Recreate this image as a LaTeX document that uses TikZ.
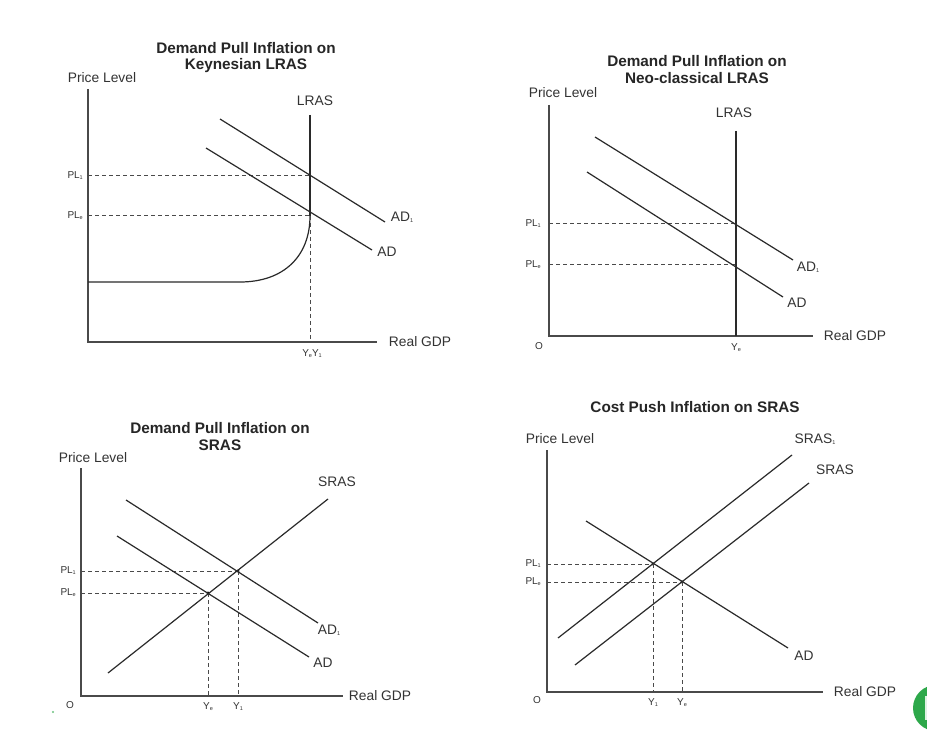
\documentclass[tikz,border=0pt]{standalone}
\usepackage{fontspec}
\setmainfont{Liberation Sans}
\definecolor{ink}{HTML}{2A2A2A}
\definecolor{axisc}{HTML}{4A4A4A}
\definecolor{txt}{HTML}{333333}
\definecolor{btn}{HTML}{2DA84A}
\newcommand\sbs[1]{\raisebox{-0.2ex}{\fontsize{5.5}{6}\selectfont #1}}
\tikzset{
  axisline/.style={line width=1.4pt, draw=axisc},
  curveline/.style={line width=1.2pt, draw=ink},
  guide/.style={line width=1pt, draw=ink!85, dash pattern=on 4pt off 3pt},
  lbl/.style={font=\fontsize{13.8}{16}\selectfont, text=txt, inner sep=0pt},
  ttl/.style={font=\bfseries\fontsize{15.3}{18}\selectfont, text=black!85, inner sep=0pt},
  small/.style={font=\fontsize{10}{11}\selectfont, text=txt, inner sep=0pt},
  dotpt/.style={circle, fill=black, inner sep=0pt, minimum size=3.2pt}
}
\begin{document}
\begin{tikzpicture}[x=1pt,y=-1pt]
\useasboundingbox (0,0) rectangle (927,730);
\fill[white] (0,0) rectangle (927,730);

% ================= Panel 1 =================
\node[ttl] (t1a) at (246,48) {Demand Pull Inflation on};
\node[ttl] (t1b) at (246,66) {Keynesian LRAS};
\node[lbl] (pl1) at (102,78) {Price Level};
\coordinate (a1top) at (88,89);
\coordinate (a1o) at (88,342);
\coordinate (a1r) at (377,342);
\draw[axisline] (a1top) -- (a1o) -- (a1r);
\node[lbl] (rg1) at (420,342) {Real GDP};
\node[lbl] (lras1) at (315,101) {LRAS};
\coordinate (l1top) at (310,115);
\coordinate (l1e) at (310,216);
\coordinate (l1one) at (310,176);
\coordinate (l1bot) at (310,342);
\draw[curveline] (l1top) -- (l1e);
\coordinate (c1a) at (88,282);
\coordinate (c1b) at (240,282);
\draw[curveline] (c1a) -- (c1b) .. controls (284,282) and (310,256) .. (l1e);
\coordinate (g1a) at (88,176);
\coordinate (g1b) at (88,216);
\draw[guide] (g1a) -- (l1one);
\draw[guide] (g1b) -- (l1e);
\draw[guide] (l1e) -- (l1bot);
\node[small, anchor=east] (pl1one) at (83,176) {PL\sbs{1}};
\node[small, anchor=east] (pl1e) at (83,216) {PL\sbs{e}};
\coordinate (ad11s) at (220,119);
\coordinate (ad11e) at (385,222);
\draw[curveline] (ad11s) -- (ad11e);
\node[lbl] (ad11l) at (402,217) {AD\sbs{1}};
\coordinate (ad1s) at (206,148);
\coordinate (ad1e) at (372,250);
\draw[curveline] (ad1s) -- (ad1e);
\node[lbl] (ad1l) at (387,252) {AD};
\node[small] (y1l) at (312,354) {Y\sbs{e}Y\sbs{1}};

% ================= Panel 2 =================
\node[ttl] (t2a) at (697,61) {Demand Pull Inflation on};
\node[ttl] (t2b) at (697,78) {Neo-classical LRAS};
\node[lbl] (pl2) at (563,93) {Price Level};
\coordinate (a2top) at (549,105);
\coordinate (a2o) at (549,336);
\coordinate (a2r) at (813,336);
\draw[axisline] (a2top) -- (a2o) -- (a2r);
\node[lbl] (rg2) at (855,336) {Real GDP};
\node[small] (o2) at (539,346) {O};
\node[lbl] (lras2) at (734,113) {LRAS};
\coordinate (l2top) at (736,131);
\coordinate (l2one) at (736,224);
\coordinate (l2e) at (736,265);
\coordinate (l2bot) at (736,336);
\draw[curveline] (l2top) -- (l2bot);
\coordinate (g2a) at (549,224);
\coordinate (g2b) at (549,265);
\draw[guide] (g2a) -- (l2one);
\draw[guide] (g2b) -- (l2e);
\node[small, anchor=east] (pl2one) at (541,224) {PL\sbs{1}};
\node[small, anchor=east] (pl2e) at (541,265) {PL\sbs{e}};
\coordinate (ad21s) at (595,137);
\coordinate (ad21e) at (793,260);
\draw[curveline] (ad21s) -- (ad21e);
\node[lbl] (ad21l) at (808,267) {AD\sbs{1}};
\coordinate (ad2s) at (587,172);
\coordinate (ad2e) at (783,297);
\draw[curveline] (ad2s) -- (ad2e);
\node[lbl] (ad2l) at (797,303) {AD};
\node[small] (ye2) at (736,348) {Y\sbs{e}};

% ================= Panel 3 =================
\node[ttl] (t3a) at (220,428) {Demand Pull Inflation on};
\node[ttl] (t3b) at (220,445) {SRAS};
\node[lbl] (pl3) at (93,458) {Price Level};
\coordinate (a3top) at (81,468);
\coordinate (a3o) at (81,696);
\coordinate (a3r) at (343,696);
\draw[axisline] (a3top) -- (a3o) -- (a3r);
\node[lbl] (rg3) at (380,696) {Real GDP};
\node[small] (o3) at (70,705) {O};
\node[dotpt] (e3) at (208,593) {};
\node[dotpt] (e31) at (238,571) {};
\coordinate (g3a) at (81,571);
\coordinate (g3b) at (81,593);
\coordinate (g3c) at (208,696);
\coordinate (g3d) at (238,696);
\draw[guide] (g3a) -- (e31.center);
\draw[guide] (g3b) -- (e3.center);
\draw[guide] (e3.center) -- (g3c);
\draw[guide] (e31.center) -- (g3d);
\node[small, anchor=east] (pl3one) at (76,571) {PL\sbs{1}};
\node[small, anchor=east] (pl3e) at (76,593) {PL\sbs{e}};
\coordinate (s3s) at (108,673);
\coordinate (s3e) at (328,499);
\draw[curveline] (s3s) -- (s3e);
\node[lbl] (s3l) at (337,482) {SRAS};
\coordinate (ad31s) at (126,500);
\coordinate (ad31e) at (318,623);
\draw[curveline] (ad31s) -- (ad31e);
\node[lbl] (ad31l) at (329,630) {AD\sbs{1}};
\coordinate (ad3s) at (117,536);
\coordinate (ad3e) at (309,657);
\draw[curveline] (ad3s) -- (ad3e);
\node[lbl] (ad3l) at (323,663) {AD};
\node[small] (ye3) at (208,707) {Y\sbs{e}};
\node[small] (y13) at (238,707) {Y\sbs{1}};

% ================= Panel 4 =================
\node[ttl] (t4) at (695,407) {Cost Push Inflation on SRAS};
\node[lbl] (pl4) at (560,439) {Price Level};
\coordinate (a4top) at (547,450);
\coordinate (a4o) at (547,692);
\coordinate (a4r) at (823,692);
\draw[axisline] (a4top) -- (a4o) -- (a4r);
\node[lbl] (rg4) at (865,692) {Real GDP};
\node[small] (o4) at (537,700) {O};
\node[dotpt] (e41) at (653,564) {};
\node[dotpt] (e4) at (682,582) {};
\coordinate (g4a) at (547,564);
\coordinate (g4b) at (547,582);
\coordinate (g4c) at (653,692);
\coordinate (g4d) at (682,692);
\draw[guide] (g4a) -- (e41.center);
\draw[guide] (g4b) -- (e4.center);
\draw[guide] (e41.center) -- (g4c);
\draw[guide] (e4.center) -- (g4d);
\node[small, anchor=east] (pl4one) at (541,564) {PL\sbs{1}};
\node[small, anchor=east] (pl4e) at (541,582) {PL\sbs{e}};
\coordinate (s41s) at (558,638);
\coordinate (s41e) at (792,455);
\draw[curveline] (s41s) -- (s41e);
\node[lbl] (s41l) at (815,439) {SRAS\sbs{1}};
\coordinate (s4s) at (575,665);
\coordinate (s4e) at (809,483);
\draw[curveline] (s4s) -- (s4e);
\node[lbl] (s4l) at (835,470) {SRAS};
\coordinate (ad4s) at (586,521);
\coordinate (ad4e) at (788,648);
\draw[curveline] (ad4s) -- (ad4e);
\node[lbl] (ad4l) at (804,656) {AD};
\node[small] (y14) at (653,703) {Y\sbs{1}};
\node[small] (ye4) at (682,703) {Y\sbs{e}};

% ================= artefacts =================
\begin{scope}
\clip (0,0) rectangle (927,730);
\fill[btn] (936,708) circle (23);
\fill[white!85!btn] (925,696) rectangle (929,720);
\end{scope}
\fill[btn!70] (53,712) circle (1.1);
\end{tikzpicture}
\end{document}
